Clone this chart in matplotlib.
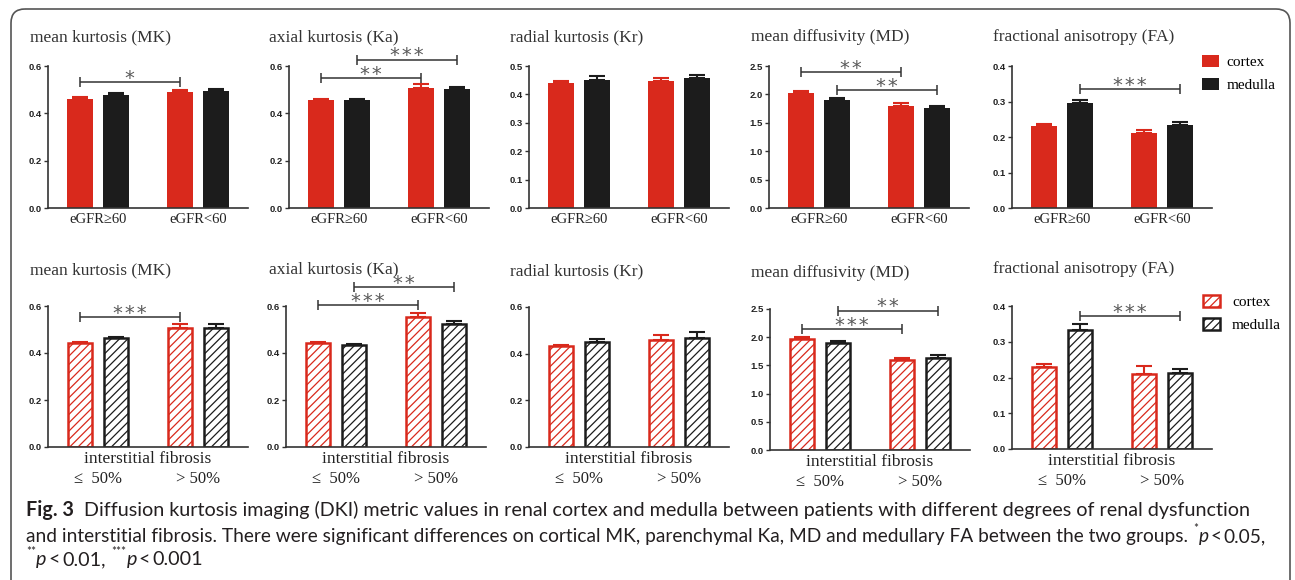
import matplotlib
matplotlib.use('Agg')
import matplotlib.pyplot as plt
from matplotlib.patches import FancyBboxPatch
from matplotlib.transforms import ScaledTranslation
from matplotlib.ticker import FormatStrFormatter
import numpy as np

# ---------------- data ----------------
titles = ['mean kurtosis (MK)', 'axial kurtosis (Ka)', 'radial kurtosis (Kr)',
          'mean diffusivity (MD)', 'fractional anisotropy (FA)']
groups_egfr = ['eGFR≥60', 'eGFR<60']
groups_fib = ['≤  50%', '> 50%']
fib_label = 'interstitial fibrosis'
series_names = ['cortex', 'medulla']

# eGFR row
mk_cortex_egfr = [0.461, 0.489];  mk_cortex_egfr_err = [0.007, 0.010]
mk_medulla_egfr = [0.478, 0.496]; mk_medulla_egfr_err = [0.007, 0.006]
ka_cortex_egfr = [0.456, 0.508];  ka_cortex_egfr_err = [0.005, 0.014]
ka_medulla_egfr = [0.455, 0.503]; ka_medulla_egfr_err = [0.004, 0.007]
kr_cortex_egfr = [0.440, 0.448];  kr_cortex_egfr_err = [0.007, 0.010]
kr_medulla_egfr = [0.452, 0.456]; kr_medulla_egfr_err = [0.013, 0.014]
md_cortex_egfr = [2.02, 1.79];    md_cortex_egfr_err = [0.04, 0.06]
md_medulla_egfr = [1.91, 1.76];   md_medulla_egfr_err = [0.035, 0.035]
fa_cortex_egfr = [0.230, 0.210];  fa_cortex_egfr_err = [0.007, 0.009]
fa_medulla_egfr = [0.295, 0.233]; fa_medulla_egfr_err = [0.010, 0.008]

# interstitial fibrosis row
mk_cortex_fib = [0.443, 0.508];   mk_cortex_fib_err = [0.004, 0.016]
mk_medulla_fib = [0.462, 0.505];  mk_medulla_fib_err = [0.004, 0.020]
ka_cortex_fib = [0.442, 0.553];   ka_cortex_fib_err = [0.004, 0.016]
ka_medulla_fib = [0.436, 0.522];  ka_medulla_fib_err = [0.003, 0.014]
kr_cortex_fib = [0.434, 0.459];   kr_cortex_fib_err = [0.004, 0.020]
kr_medulla_fib = [0.452, 0.469];  kr_medulla_fib_err = [0.010, 0.026]
md_cortex_fib = [1.97, 1.60];     md_cortex_fib_err = [0.035, 0.035]
md_medulla_fib = [1.89, 1.635];   md_medulla_fib_err = [0.035, 0.045]
fa_cortex_fib = [0.228, 0.210];   fa_cortex_fib_err = [0.011, 0.021]
fa_medulla_fib = [0.333, 0.212];  fa_medulla_fib_err = [0.016, 0.011]

# y-axis ticks
yticks_egfr = [[0.0, 0.2, 0.4, 0.6], [0.0, 0.2, 0.4, 0.6], [0.0, 0.1, 0.2, 0.3, 0.4, 0.5],
               [0.0, 0.5, 1.0, 1.5, 2.0, 2.5], [0.0, 0.1, 0.2, 0.3, 0.4]]
yticks_fib = [[0.0, 0.2, 0.4, 0.6], [0.0, 0.2, 0.4, 0.6], [0.0, 0.2, 0.4, 0.6],
              [0.0, 0.5, 1.0, 1.5, 2.0, 2.5], [0.0, 0.1, 0.2, 0.3, 0.4]]

# significance brackets: (bar from, bar to, level, stars); bars 0=cortex g1, 1=medulla g1, 2=cortex g2, 3=medulla g2
sig_egfr = [[(0, 2, 0.532, '*')],
            [(0, 2, 0.549, '**'), (1, 3, 0.627, '***')],
            [],
            [(0, 2, 2.39, '**'), (1, 3, 2.07, '**')],
            [(1, 3, 0.335, '***')]]
sig_fib = [[(0, 2, 0.552, '***')],
           [(0, 2, 0.603, '***'), (1, 3, 0.680, '**')],
           [],
           [(0, 2, 2.14, '***'), (1, 3, 2.47, '**')],
           [(1, 3, 0.372, '***')]]

caption_l1_bold = 'Fig. 3'
caption_l1 = ('Diffusion kurtosis imaging (DKI) metric values in renal cortex and medulla between '
              'patients with different degrees of renal dysfunction')
caption_l2 = ('and interstitial fibrosis. There were significant differences on cortical MK, '
              'parenchymal Ka, MD and medullary FA between the two groups.')

# ---------------- style ----------------
W, H = 1295, 580
DPI = 100
RED = '#d9291c'
BLACK = '#1c1c1c'
AXC = '#333333'
SERIF = ['Liberation Serif', 'DejaVu Serif']
plt.rcParams['hatch.linewidth'] = 0.9

fig = plt.figure(figsize=(W / DPI, H / DPI), dpi=DPI)
fig.patch.set_facecolor('white')

bg = fig.add_axes([0, 0, 1, 1], zorder=-5)
bg.set_xlim(0, W)
bg.set_ylim(H, 0)
bg.axis('off')
bg.add_patch(FancyBboxPatch((11, 9), 1279, 640, boxstyle='round,pad=0,rounding_size=14',
                            fill=False, edgecolor='#555555', linewidth=1.2))

OFF = 0.1825
GX = np.array([0, 1])


def make_axes(left, top, bottom, width=200):
    return fig.add_axes([left / W, 1 - bottom / H, width / W, (bottom - top) / H])


def style_axes(ax, yt):
    ax.set_xlim(-0.5, 1.5)
    ax.set_ylim(0, yt[-1])
    for s in ('top', 'right'):
        ax.spines[s].set_visible(False)
    for s in ('left', 'bottom'):
        ax.spines[s].set_color(AXC)
        ax.spines[s].set_linewidth(1.2)
    ax.set_xticks([])
    ax.set_yticks(yt)
    ax.yaxis.set_major_formatter(FormatStrFormatter('%.1f'))
    ax.tick_params(axis='y', length=3, width=1.0, pad=1.5, colors=AXC, labelsize=6.8)
    for lbl in ax.get_yticklabels():
        lbl.set_fontweight('bold')
        lbl.set_fontfamily('Liberation Sans')
        lbl.set_color('#222222')
    ax.patch.set_alpha(0)


def draw_sig(ax, sigs):
    xs = [GX[0] - OFF, GX[0] + OFF, GX[1] - OFF, GX[1] + OFF]
    for i, j, y, stars in sigs:
        ax.plot([xs[i], xs[j]], [y, y], color=AXC, lw=1.1, clip_on=False,
                marker='|', markersize=7, markeredgewidth=1.1, solid_capstyle='butt')
        ax.annotate('\u200a'.join(stars), xy=((xs[i] + xs[j]) / 2, y), xytext=(0, -1.2),
                    textcoords='offset points', ha='center', va='baseline',
                    fontsize=14, color='#5a5a5a', family='DejaVu Sans', annotation_clip=False)


def draw_panel(ax, c, ce, m, me, hatched):
    if hatched:
        bc = ax.bar(GX - OFF, c, 0.24, facecolor='white', edgecolor=RED, hatch='////', linewidth=1.8, zorder=2)
        bm = ax.bar(GX + OFF, m, 0.24, facecolor='white', edgecolor=BLACK, hatch='////', linewidth=1.8, zorder=2)
    else:
        bc = ax.bar(GX - OFF, c, 0.26, color=RED, zorder=2)
        bm = ax.bar(GX + OFF, m, 0.26, color=BLACK, zorder=2)
    ax.errorbar(GX - OFF, c, yerr=[np.zeros(2), ce], fmt='none', ecolor=RED,
                elinewidth=1.5, capsize=6, capthick=1.5, zorder=1)
    ax.errorbar(GX + OFF, m, yerr=[np.zeros(2), me], fmt='none', ecolor=BLACK,
                elinewidth=1.5, capsize=6, capthick=1.5, zorder=1)
    return bc, bm


def below(ax, px):
    return ax.get_xaxis_transform() + ScaledTranslation(0, -px / DPI, fig.dpi_scale_trans)


top_data = [(mk_cortex_egfr, mk_cortex_egfr_err, mk_medulla_egfr, mk_medulla_egfr_err),
            (ka_cortex_egfr, ka_cortex_egfr_err, ka_medulla_egfr, ka_medulla_egfr_err),
            (kr_cortex_egfr, kr_cortex_egfr_err, kr_medulla_egfr, kr_medulla_egfr_err),
            (md_cortex_egfr, md_cortex_egfr_err, md_medulla_egfr, md_medulla_egfr_err),
            (fa_cortex_egfr, fa_cortex_egfr_err, fa_medulla_egfr, fa_medulla_egfr_err)]
bot_data = [(mk_cortex_fib, mk_cortex_fib_err, mk_medulla_fib, mk_medulla_fib_err),
            (ka_cortex_fib, ka_cortex_fib_err, ka_medulla_fib, ka_medulla_fib_err),
            (kr_cortex_fib, kr_cortex_fib_err, kr_medulla_fib, kr_medulla_fib_err),
            (md_cortex_fib, md_cortex_fib_err, md_medulla_fib, md_medulla_fib_err),
            (fa_cortex_fib, fa_cortex_fib_err, fa_medulla_fib, fa_medulla_fib_err)]

top_left = [48, 289, 529, 769, 1012]
top_title_x = [30, 269, 510, 751, 993]
bot_left = [48, 286, 529, 770, 1012]
bot_top = [306, 306, 307, 309, 306]
bot_bottom = [447, 447, 447, 450, 449]
bot_title_y = [268, 267, 269, 271, 267]

for k in range(5):
    # top row
    ax = make_axes(top_left[k], 66, 208)
    bc, bm = draw_panel(ax, *top_data[k], hatched=False)
    style_axes(ax, yticks_egfr[k])
    draw_sig(ax, sig_egfr[k])
    for g, lab in zip(GX, groups_egfr):
        ax.text(g, 0, lab, transform=below(ax, 15), ha='center', va='baseline',
                fontsize=10.5, family=SERIF, color='#222222')
    bg.text(top_title_x[k], 41, titles[k], fontsize=12.5, family=SERIF, color='#333333',
            ha='left', va='baseline')
    if k == 4:
        ax.legend([bc, bm], series_names, loc='upper left',
                  bbox_to_anchor=(1202 / W, 1 - 55 / H), bbox_transform=fig.transFigure,
                  frameon=False, borderpad=0, borderaxespad=0, handlelength=1.1,
                  handleheight=0.85, handletextpad=0.5, labelspacing=0.55,
                  prop={'family': SERIF, 'size': 11})

    # bottom row
    ax = make_axes(bot_left[k], bot_top[k], bot_bottom[k])
    bc, bm = draw_panel(ax, *bot_data[k], hatched=True)
    style_axes(ax, yticks_fib[k])
    draw_sig(ax, sig_fib[k])
    ax.text(0.5, 0, fib_label, transform=ax.transAxes + ScaledTranslation(0, -16 / DPI, fig.dpi_scale_trans),
            ha='center', va='baseline', fontsize=12.5, family=SERIF, color='#222222')
    for g, lab in zip(GX, groups_fib):
        ax.text(g, 0, lab, transform=below(ax, 36), ha='center', va='baseline',
                fontsize=12, family=SERIF, color='#222222')
    bg.text(top_title_x[k], bot_title_y[k] + 6, titles[k], fontsize=12.5, family=SERIF,
            color='#333333', ha='left', va='baseline')
    if k == 4:
        ax.legend([bc, bm], series_names, loc='upper left',
                  bbox_to_anchor=(1203 / W, 1 - 295 / H), bbox_transform=fig.transFigure,
                  frameon=False, borderpad=0, borderaxespad=0, handlelength=1.1,
                  handleheight=0.85, handletextpad=0.8, labelspacing=0.55,
                  prop={'family': SERIF, 'size': 11})

# ---------------- caption ----------------
renderer = fig.canvas.get_renderer()
CAPF = ['Lato', 'DejaVu Sans']
CAPC = '#231f20'


def draw_runs(x0, y, runs, size):
    x = x0
    arts = []
    for kind, text in runs:
        if kind == 'gap':
            x += text * size * DPI / 72
            continue
        kw = dict(family=CAPF, color=CAPC, va='baseline', ha='left')
        yy = y
        fs = size
        if kind == 'bold':
            kw['fontweight'] = 'bold'
        elif kind == 'italic':
            kw['fontstyle'] = 'italic'
        elif kind == 'sup':
            fs = size * 0.6
            yy = y - size * DPI / 72 * 0.5
        t = bg.text(x, yy, text, fontsize=fs, **kw)
        arts.append(t)
        x += t.get_window_extent(renderer).width
    return x, arts


def fit_line(x0, y, runs, right, size0=12.5):
    end, arts = draw_runs(x0, y, runs, size0)
    for a in arts:
        a.remove()
    s = size0 * (right - x0) / (end - x0)
    draw_runs(x0, y, runs, s)
    return s


X0 = 26
line1 = [('bold', caption_l1_bold), ('gap', 0.5), ('normal', caption_l1)]
s1 = fit_line(X0, 516, line1, 1255)

line2 = [('normal', caption_l2), ('gap', 0.3), ('sup', '*'), ('italic', 'p'), ('gap', 0.1),
         ('normal', '<'), ('gap', 0.1), ('normal', '0.05,')]
fit_line(X0, 542, line2, 1268)
line3 = [('sup', '**'), ('italic', 'p'), ('gap', 0.1), ('normal', '<'), ('gap', 0.1),
         ('normal', '0.01,'), ('gap', 0.3), ('sup', '***'), ('italic', 'p'), ('gap', 0.1),
         ('normal', '<'), ('gap', 0.1), ('normal', '0.001')]
draw_runs(X0, 565, line3, s1)

fig.savefig('out.png', dpi=DPI, facecolor='white')
